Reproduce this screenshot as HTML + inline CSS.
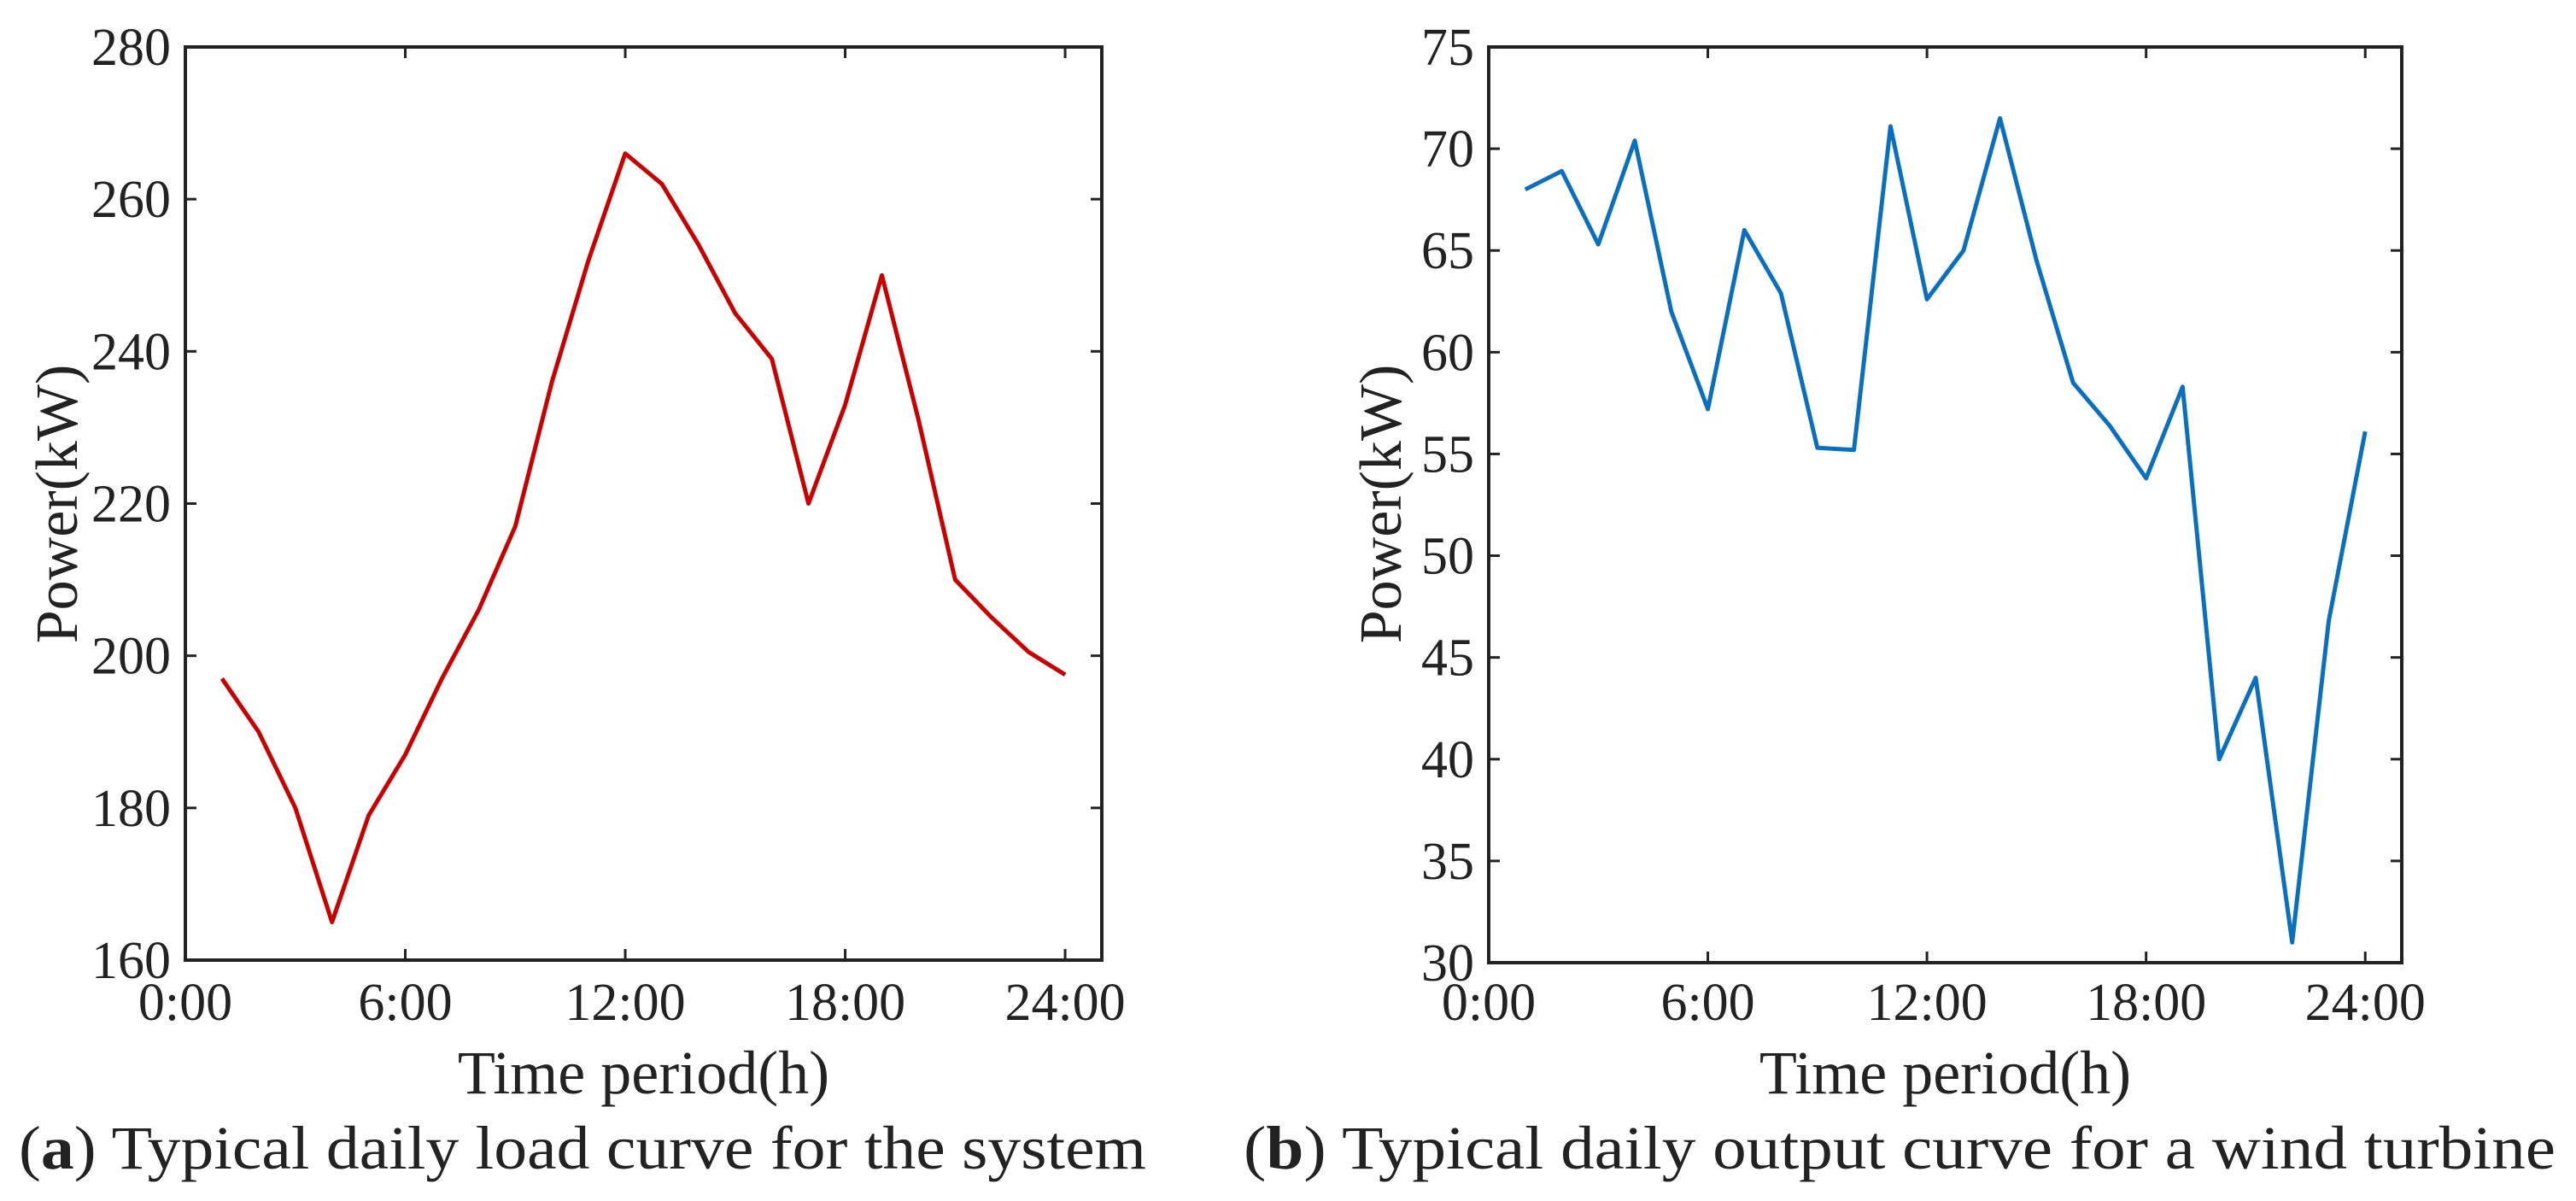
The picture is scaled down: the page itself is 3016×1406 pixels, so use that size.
<!DOCTYPE html>
<html><head><meta charset="utf-8"><style>
html,body{margin:0;padding:0;background:#fff;}
svg{display:block;}
text{font-family:"Liberation Serif",serif;fill:#222;}
</style></head><body>
<svg id="fig" width="3016" height="1406" viewBox="0 0 3016 1406" xmlns="http://www.w3.org/2000/svg"></svg>
<script>
const hours = [1,2,3,4,5,6,7,8,9,10,11,12,13,14,15,16,17,18,19,20,21,22,23,24];
const loadValues = [197,190,180,165,179,187,197,206,217,236,252,266,262,254,245,239,220,233,250,231,210,205,200.5,197.5];
const windValues = [68,68.9,65.3,70.4,62,57.2,66,62.9,55.3,55.2,71.1,62.6,65,71.5,64.5,58.5,56.4,53.8,58.3,40,44,31,46.8,56.1];
const xTickValues = [0,6,12,18,24];
const xTickLabels = ["0:00","6:00","12:00","18:00","24:00"];
const loadYTicks = [160,180,200,220,240,260,280];
const windYTicks = [30,35,40,45,50,55,60,65,70,75];

const NS="http://www.w3.org/2000/svg";
const svg=document.getElementById('fig');
function mk(tag,attrs,parent){const e=document.createElementNS(NS,tag);for(const k in attrs)e.setAttribute(k,attrs[k]);(parent||svg).appendChild(e);return e;}

function panel(cfg){
  const g=mk('g',{});
  
  
  const L=cfg.left,R=cfg.right,T=cfg.top,B=cfg.bottom;
  const xs=v=>L+(v-0)/(25-0)*(R-L);
  const ys=v=>B-(v-cfg.ymin)/(cfg.ymax-cfg.ymin)*(B-T);
  // series
  let d='';
  hours.forEach((h,i)=>{d+=(i?'L':'M')+xs(h).toFixed(1)+' '+ys(cfg.values[i]).toFixed(1);});
  const line=mk('path',{d:d,fill:'none',stroke:cfg.color,'stroke-width':5,'stroke-linejoin':'round'},g);
  
  
  // ticks
  xTickValues.forEach((v,i)=>{
    const x=xs(v);
    if(v>0){mk('line',{x1:x,y1:B,x2:x,y2:B-13,stroke:'#222','stroke-width':3},g);
    mk('line',{x1:x,y1:T,x2:x,y2:T+13,stroke:'#222','stroke-width':3},g);}
    const t=mk('text',{x:x,y:1194,'font-size':62,'text-anchor':'middle'},g);
    t.textContent=xTickLabels[i];
    
    
  });
  cfg.yticks.forEach(v=>{
    const y=ys(v);
    if(v>cfg.ymin&&v<cfg.ymax){mk('line',{x1:L,y1:y,x2:L+13,y2:y,stroke:'#222','stroke-width':3},g);
    mk('line',{x1:R,y1:y,x2:R-13,y2:y,stroke:'#222','stroke-width':3},g);}
    const t=mk('text',{x:L-17,y:y+21,'font-size':62,'text-anchor':'end'},g);
    t.textContent=String(v);
    
    
  });
  const box=mk('rect',{x:L,y:T,width:R-L,height:B-T,fill:'none',stroke:'#222','stroke-width':4},g);
  
  
  const xt=mk('text',{x:(L+R)/2,y:1280,'font-size':72,'text-anchor':'middle'},g);
  xt.textContent='Time period(h)';
  
  
  const yt=mk('text',{x:0,y:0,'font-size':70,'text-anchor':'middle',transform:'translate('+cfg.ytitleX+',590) rotate(-90)'},g);
  yt.textContent='Power(kW)';
  
  
  const cap=mk('text',{x:cfg.capX,y:1368,'font-size':72,textLength:cfg.capW,lengthAdjust:'spacingAndGlyphs'},g);
  
  
  const b=mk('tspan',{},cap);b.textContent='(';
  const b2=mk('tspan',{'font-weight':'bold'},cap);b2.textContent=cfg.letter;
  const b3=mk('tspan',{},cap);b3.textContent=') '+cfg.caption;
}
panel({name:'load-chart',left:217,right:1290,top:55,bottom:1124,ymin:160,ymax:280,yticks:loadYTicks,values:loadValues,color:'#c80000',ytitleX:90,capX:22,capW:1320,letter:'a',caption:'Typical daily load curve for the system'});
panel({name:'wind-chart',left:1743,right:2812,top:55,bottom:1127,ymin:30,ymax:75,yticks:windYTicks,values:windValues,color:'#0b6fbf',ytitleX:1640,capX:1456,capW:1536,letter:'b',caption:'Typical daily output curve for a wind turbine'});
</script>
</body></html>
